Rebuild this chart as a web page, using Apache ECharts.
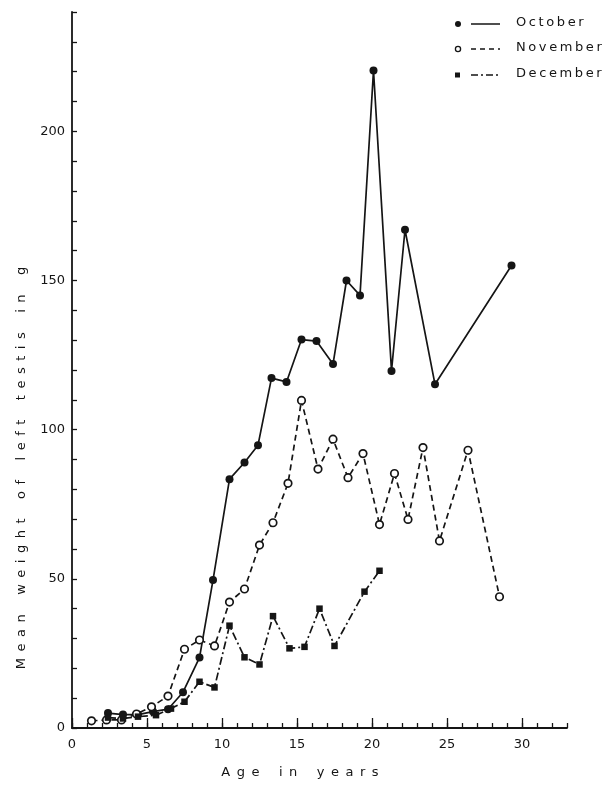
<!DOCTYPE html>
<html>
<head>
<meta charset="utf-8">
<script src="https://cdn.jsdelivr.net/npm/echarts@6/dist/echarts.min.js"></script>
<style>
html,body{margin:0;padding:0;background:#fff;}
#c{width:616px;height:791px;}
</style>
</head>
<body>
<div id="c"></div>
<script>
// Data: [age in years, mean weight of left testis in g]
const october = [[2.4,5],[3.4,4.5],[4.4,4.5],[5.4,5.5],[6.4,6.3],[7.4,12],[8.5,23.6],[9.4,49.6],[10.5,83.4],[11.5,89],[12.4,94.8],[13.3,117.3],[14.3,116],[15.3,130.2],[16.3,129.7],[17.4,122],[18.3,150],[19.2,145],[20.1,220.4],[21.3,119.7],[22.2,167],[24.2,115.2],[29.3,155]];
const november = [[1.3,2.4],[2.3,2.7],[3.3,2.7],[4.3,4.7],[5.3,7.1],[6.4,10.7],[7.5,26.4],[8.5,29.5],[9.5,27.5],[10.5,42.2],[11.5,46.6],[12.5,61.3],[13.4,68.8],[14.4,82],[15.3,109.8],[16.4,86.8],[17.4,96.8],[18.4,83.9],[19.4,92],[20.5,68.2],[21.5,85.3],[22.4,69.9],[23.4,94],[24.5,62.7],[26.4,93.1],[28.5,44]];
const december = [[2.4,3.5],[3.4,3.2],[4.4,3.8],[5.6,4.3],[6.6,6.5],[7.5,8.8],[8.5,15.5],[9.5,13.6],[10.5,34.3],[11.5,23.7],[12.5,21.3],[13.4,37.5],[14.5,26.7],[15.5,27.2],[16.5,40],[17.5,27.5],[19.5,45.7],[20.5,52.7]];
const xMajorTicks = [0,5,10,15,20,25,30];
const yLabelTicks = [0,50,100,150,200];
const seriesNames = ['October','November','December'];
const xTitle = 'Age in years';
const yTitle = 'Mean weight of left testis in g';

function spaced(s, gap, wordGap){
  return s.split(' ').map(w => w.split('').join(gap)).join(wordGap);
}
const EN = '\u2002', TH = '\u2009';
const FONT = '"DejaVu Sans", sans-serif';
const INK = '#151515';

const chart = echarts.init(document.getElementById('c'), null, {renderer:'canvas'});
const option = {
  animation:false,
  backgroundColor:'#ffffff',
  grid:{left:72,right:49,top:12,bottom:63,containLabel:false},
  xAxis:[
    {type:'value',min:0,max:33,interval:1,
     axisLine:{show:true,lineStyle:{color:INK,width:1.8}},
     axisTick:{show:true,inside:true,length:5,lineStyle:{color:INK,width:1.3}},
     axisLabel:{show:false},splitLine:{show:false}},
    {type:'value',min:0,max:33,interval:5,position:'bottom',
     axisLine:{show:false},
     axisTick:{show:true,inside:true,length:10,customValues:xMajorTicks,lineStyle:{color:INK,width:1.3}},
     axisLabel:{show:true,customValues:xMajorTicks,margin:10,fontSize:13,fontFamily:FONT,color:INK},
     splitLine:{show:false}}
  ],
  yAxis:{type:'value',min:0,max:240,interval:10,
    axisLine:{show:true,lineStyle:{color:INK,width:1.8}},
    axisTick:{show:true,inside:true,length:5,lineStyle:{color:INK,width:1.3}},
    axisLabel:{show:true,customValues:yLabelTicks,margin:7,fontSize:13,fontFamily:FONT,color:INK},
    splitLine:{show:false}},
  series:[
    {name:seriesNames[0],type:'line',xAxisIndex:0,data:october,
     symbol:'circle',symbolSize:8,
     lineStyle:{color:INK,width:1.7,type:'solid'},
     itemStyle:{color:INK}},
    {name:seriesNames[1],type:'line',xAxisIndex:0,data:november,
     symbol:'circle',symbolSize:7.5,
     lineStyle:{color:INK,width:1.7,type:[6,4]},
     itemStyle:{color:'#ffffff',borderColor:INK,borderWidth:1.7}},
    {name:seriesNames[2],type:'line',xAxisIndex:0,data:december,
     symbol:'rect',symbolSize:6.5,
     lineStyle:{color:INK,width:1.7,type:[8,3,2,3]},
     itemStyle:{color:INK}}
  ],
  graphic:[
    // legend
    {type:'circle',shape:{cx:458,cy:24,r:3},style:{fill:INK}},
    {type:'line',shape:{x1:471,y1:24,x2:500,y2:24},style:{stroke:INK,lineWidth:1.5}},
    {type:'text',left:516,top:16,style:{text:spaced(seriesNames[0],TH,' '),font:'13px '+FONT,fill:INK}},
    {type:'circle',shape:{cx:458,cy:49,r:2.6},style:{fill:'#fff',stroke:INK,lineWidth:1.3}},
    {type:'line',shape:{x1:471,y1:49,x2:500,y2:49},style:{stroke:INK,lineWidth:1.5,lineDash:[5,4]}},
    {type:'text',left:516,top:41,style:{text:spaced(seriesNames[1],TH,' '),font:'13px '+FONT,fill:INK}},
    {type:'rect',shape:{x:455,y:72.5,width:5,height:5},style:{fill:INK}},
    {type:'line',shape:{x1:471,y1:75,x2:500,y2:75},style:{stroke:INK,lineWidth:1.5,lineDash:[7,3,2,3]}},
    {type:'text',left:516,top:67,style:{text:spaced(seriesNames[2],TH,' '),font:'13px '+FONT,fill:INK}},
    // axis titles
    {type:'text',x:300,y:773,style:{text:spaced(xTitle,EN,EN+EN+EN),font:'13px '+FONT,fill:INK,align:'center',verticalAlign:'middle'}},
    {type:'text',x:22,y:468,rotation:Math.PI/2,style:{text:spaced(yTitle,EN,EN+EN+EN),font:'13px '+FONT,fill:INK,align:'center',verticalAlign:'middle'}}
  ]
};
chart.setOption(option);
</script>
</body>
</html>
